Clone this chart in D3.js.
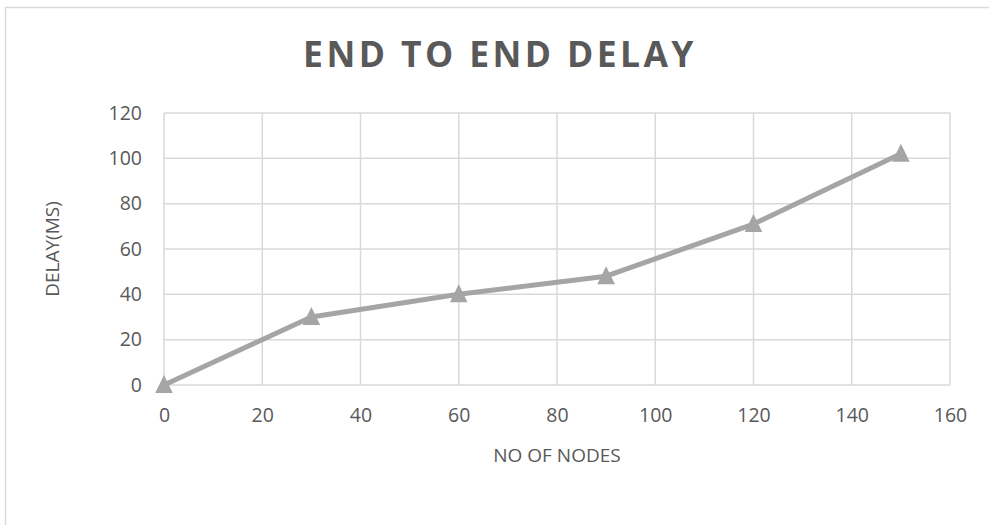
<!DOCTYPE html>
<html>
<head>
<meta charset="utf-8">
<script src="https://cdn.jsdelivr.net/npm/d3@7/dist/d3.min.js"></script>
<style>
  html, body { margin: 0; padding: 0; background: #fff; }
  svg { display: block; }
  text { font-family: "Open Sans", "Noto Sans", sans-serif; fill: #595959; }
</style>
</head>
<body>
<script>
// Series: end-to-end delay versus number of nodes
const nodes = [0, 30, 60, 90, 120, 150];
const delayMs = [0, 30, 40, 48, 71, 102];
const xTicks = [0, 20, 40, 60, 80, 100, 120, 140, 160];
const yTicks = [0, 20, 40, 60, 80, 100, 120];
const chartTitle = "END TO END DELAY";
const xTitle = "NO OF NODES";
const yTitle = "DELAY(MS)";

const W = 989, H = 525;
const plot = { left: 164, right: 950, top: 113, bottom: 385 };

const svg = d3.select("body").append("svg")
  .attr("width", W).attr("height", H);

// chart frame
svg.append("rect")
  .attr("x", 5.5).attr("y", 7.5)
  .attr("width", W + 10).attr("height", H + 10)
  .attr("fill", "#fff").attr("stroke", "#d9d9d9").attr("stroke-width", 1.5);

const x = d3.scaleLinear().domain([0, 160]).range([plot.left, plot.right]);
const y = d3.scaleLinear().domain([0, 120]).range([plot.bottom, plot.top]);

// gridlines
const grid = svg.append("g").attr("stroke", "#d9d9d9").attr("stroke-width", 1.5);
grid.selectAll("line.h").data(yTicks).join("line")
  .attr("class", "h")
  .attr("x1", plot.left).attr("x2", plot.right)
  .attr("y1", d => y(d)).attr("y2", d => y(d));
grid.selectAll("line.v").data(xTicks).join("line")
  .attr("class", "v")
  .attr("y1", plot.top).attr("y2", plot.bottom)
  .attr("x1", d => x(d)).attr("x2", d => x(d));

// axes (labels only; lines come from the grid)
const xAxis = svg.append("g")
  .attr("transform", `translate(0,${plot.bottom})`)
  .call(d3.axisBottom(x).tickValues(xTicks).tickSize(0).tickPadding(23));
const yAxis = svg.append("g")
  .attr("transform", `translate(${plot.left},0)`)
  .call(d3.axisLeft(y).tickValues(yTicks).tickSize(0).tickPadding(22));
[xAxis, yAxis].forEach(a => {
  a.select(".domain").remove();
  a.selectAll("text")
    .style("font-family", '"Open Sans", sans-serif')
    .style("font-size", "19.5px")
    .attr("fill", "#595959");
});

// line
const line = d3.line()
  .x((d, i) => x(nodes[i]))
  .y(d => y(d));
svg.append("path")
  .datum(delayMs)
  .attr("d", line)
  .attr("fill", "none")
  .attr("stroke", "#a5a5a5")
  .attr("stroke-width", 5)
  .attr("stroke-linejoin", "round");

// triangle markers
svg.selectAll("path.marker").data(delayMs).join("path")
  .attr("class", "marker")
  .attr("d", "M0,-10L8.8,8L-8.8,8Z")
  .attr("transform", (d, i) => `translate(${x(nodes[i])},${y(d)})`)
  .attr("fill", "#a5a5a5");

// title
svg.append("text")
  .attr("x", 500).attr("y", 67)
  .attr("text-anchor", "middle")
  .style("font-size", "35.5px")
  .style("font-weight", "bold")
  .style("letter-spacing", "3.4px")
  .text(chartTitle);

// axis titles
svg.append("text")
  .attr("x", (plot.left + plot.right) / 2).attr("y", 462)
  .attr("text-anchor", "middle")
  .style("font-size", "19px")
  .text(xTitle);

svg.append("text")
  .attr("transform", `translate(59,${(plot.top + plot.bottom) / 2}) rotate(-90)`)
  .attr("text-anchor", "middle")
  .style("font-size", "19px")
  .text(yTitle);
</script>
</body>
</html>
